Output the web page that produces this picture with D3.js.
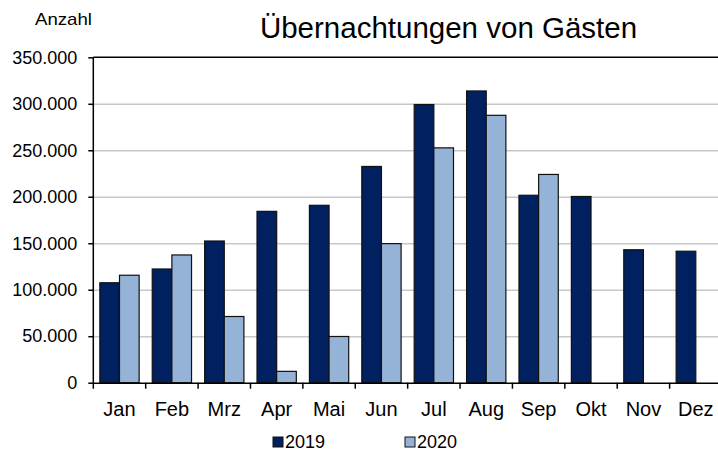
<!DOCTYPE html>
<html>
<head>
<meta charset="utf-8">
<script src="https://cdn.jsdelivr.net/npm/d3@7"></script>
<style>
  body { margin: 0; background: #fff; }
  svg { display: block; font-family: "Liberation Sans", Arial, sans-serif; }
  .grid line { stroke: #c8c8c8; stroke-width: 1.5; }
  .grid .domain { display: none; }
  .axis text { fill: #000; }
</style>
</head>
<body>
<div id="chart"></div>
<script>
// chart data
const months = ["Jan", "Feb", "Mrz", "Apr", "Mai", "Jun", "Jul", "Aug", "Sep", "Okt", "Nov", "Dez"];
const years = ["2019", "2020"];
const values2019 = [107500, 122300, 152400, 184300, 190800, 232600, 299200, 313800, 201600, 200300, 143000, 141400];
const values2020 = [115600, 137400, 71200, 12200, 49700, 149600, 252600, 287600, 224000, null, null, null];
const yTicks = [0, 50000, 100000, 150000, 200000, 250000, 300000, 350000];
const colors = ["#00205f", "#95b3d7"];

const width = 718, height = 450;
const margin = {top: 57.3, right: -4, bottom: 67.3, left: 93.3};

const svg = d3.select("#chart").append("svg")
  .attr("width", width)
  .attr("height", height);

const x0 = d3.scaleBand()
  .domain(months)
  .range([margin.left, width - margin.right])
  .padding(0);

const bw = x0.bandwidth();
const x1 = d3.scaleBand()
  .domain(years)
  .range([bw * 0.125, bw * 0.875]);

const y = d3.scaleLinear()
  .domain([0, 350000])
  .range([height - margin.bottom, margin.top]);

const fmt = d => d3.format(",")(d).replace(/,/g, ".");

// gridlines
svg.append("g")
  .attr("class", "grid")
  .attr("transform", `translate(${margin.left},0)`)
  .call(d3.axisLeft(y).tickValues(yTicks.slice(1, -1)).tickSize(-(width - margin.left - margin.right)).tickFormat(""));

// top border line
svg.append("line")
  .attr("x1", margin.left).attr("x2", width)
  .attr("y1", y(350000)).attr("y2", y(350000))
  .attr("stroke", "#000").attr("stroke-width", 1.5);

// bars
const rows = months.map((m, i) => ({month: m, vals: [values2019[i], values2020[i]]}));

const groups = svg.append("g").selectAll("g")
  .data(rows)
  .join("g")
  .attr("transform", d => `translate(${x0(d.month)},0)`);

groups.selectAll("rect")
  .data(d => d.vals.map((v, j) => ({year: years[j], value: v, j: j})).filter(e => e.value != null))
  .join("rect")
  .attr("x", d => x1(d.year))
  .attr("y", d => y(d.value))
  .attr("width", x1.bandwidth())
  .attr("height", d => y(0) - y(d.value))
  .attr("fill", d => colors[d.j])
  .attr("stroke", "#111")
  .attr("stroke-width", 1.2);

// y axis
const yAxis = svg.append("g")
  .attr("class", "axis")
  .attr("transform", `translate(${margin.left},0)`)
  .call(d3.axisLeft(y).tickValues(yTicks).tickSize(5).tickPadding(11).tickFormat(fmt));
yAxis.selectAll("text").attr("font-size", 18).attr("font-family", "Liberation Sans, Arial, sans-serif");
yAxis.selectAll("line, path").attr("stroke", "#000").attr("stroke-width", 1.5);
yAxis.select(".domain").attr("d", `M0,${y(0)}V${y(350000)}`);

// x axis
const xAxis = svg.append("g")
  .attr("class", "axis")
  .attr("transform", `translate(0,${y(0)})`)
  .call(d3.axisBottom(x0).tickSize(0).tickPadding(19));
xAxis.selectAll("text").attr("font-size", 20).attr("font-family", "Liberation Sans, Arial, sans-serif");
xAxis.select(".domain").attr("stroke", "#000").attr("stroke-width", 1.5);

// category separators below the axis
xAxis.selectAll(".sep")
  .data(months)
  .join("line")
  .attr("class", "sep")
  .attr("x1", d => x0(d)).attr("x2", d => x0(d))
  .attr("y1", 0).attr("y2", 6)
  .attr("stroke", "#000").attr("stroke-width", 1.5);

// title and unit label
svg.append("text")
  .attr("x", 448.5).attr("y", 38)
  .attr("text-anchor", "middle")
  .attr("font-size", 29.5)
  .text("Übernachtungen von Gästen");

svg.append("text")
  .attr("x", 35).attr("y", 25)
  .attr("font-size", 17)
  .attr("textLength", 57)
  .attr("lengthAdjust", "spacingAndGlyphs")
  .text("Anzahl");

// legend
const legendX = [273, 405];
const legend = svg.append("g").selectAll("g")
  .data(years)
  .join("g")
  .attr("transform", (d, i) => `translate(${legendX[i]},437)`);

legend.append("rect")
  .attr("width", 10).attr("height", 10)
  .attr("fill", (d, i) => colors[i])
  .attr("stroke", "#111").attr("stroke-width", 1);

legend.append("text")
  .attr("x", 12).attr("y", 10.5)
  .attr("font-size", 18)
  .text(d => d);
</script>
</body>
</html>
